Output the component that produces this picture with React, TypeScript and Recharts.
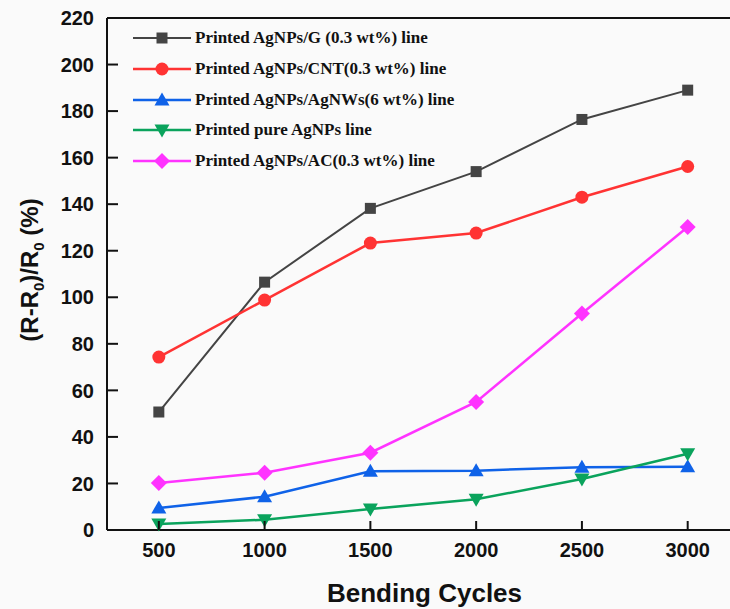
import React from "react";
import { LineChart, Line, XAxis, YAxis, ReferenceLine, Legend } from "recharts";

// ── data ────────────────────────────────────────────────────────────────────
const cycles = [500, 1000, 1500, 2000, 2500, 3000];
const yTicks = [0, 20, 40, 60, 80, 100, 120, 140, 160, 180, 200, 220];

const agG    = [50.7, 106.5, 138.2, 154.0, 176.4, 189.0];
const agCNT  = [74.3, 98.8, 123.3, 127.6, 143.0, 156.2];
const agNWs  = [9.5, 14.3, 25.2, 25.5, 27.0, 27.2];
const pureAg = [2.6, 4.4, 9.0, 13.2, 21.9, 32.8];
const agAC   = [20.2, 24.6, 33.2, 55.0, 93.0, 130.2];

const data = cycles.map((c, i) => ({
  c, g: agG[i], cnt: agCNT[i], nws: agNWs[i], pure: pureAg[i], ac: agAC[i],
}));

type Shape = "square" | "circle" | "up" | "down" | "diamond";

const series: { key: string; name: string; color: string; shape: Shape; width: number }[] = [
  { key: "g",    name: "Printed AgNPs/G (0.3 wt%) line",    color: "#444444", shape: "square",  width: 2 },
  { key: "cnt",  name: "Printed AgNPs/CNT(0.3 wt%) line",   color: "#ff3333", shape: "circle",  width: 2.5 },
  { key: "nws",  name: "Printed AgNPs/AgNWs(6 wt%) line",   color: "#0f62e8", shape: "up",      width: 2.5 },
  { key: "pure", name: "Printed pure AgNPs line",           color: "#0aa35c", shape: "down",    width: 2.5 },
  { key: "ac",   name: "Printed AgNPs/AC(0.3 wt%) line",    color: "#ff33ff", shape: "diamond", width: 2.5 },
];

const SANS = "'Liberation Sans', Arial, sans-serif";
const SERIF = "'Liberation Serif', 'Times New Roman', serif";
const INK = "#111";

// ── markers ─────────────────────────────────────────────────────────────────
function Marker({ shape, color, x, y }: { shape: Shape; color: string; x: number; y: number }) {
  switch (shape) {
    case "square":
      return <rect x={x - 5.5} y={y - 5.5} width={11} height={11} fill={color} />;
    case "circle":
      return <circle cx={x} cy={y} r={6.5} fill={color} />;
    case "up":
      return <polygon points={`${x},${y - 7.5} ${x + 7.5},${y + 5.5} ${x - 7.5},${y + 5.5}`} fill={color} />;
    case "down":
      return <polygon points={`${x},${y + 7.5} ${x + 7.5},${y - 5.5} ${x - 7.5},${y - 5.5}`} fill={color} />;
    default:
      return <polygon points={`${x},${y - 8} ${x + 8},${y} ${x},${y + 8} ${x - 8},${y}`} fill={color} />;
  }
}

const makeDot = (shape: Shape, color: string) => (props: any) => (
  <Marker key={`${shape}-${props.index}`} shape={shape} color={color} x={props.cx} y={props.cy} />
);

// ── ticks (inward tick marks) ───────────────────────────────────────────────
// YAxis: label sits tickMargin (13) left of the axis line, tick mark goes 11px inward
function YTick({ x, y, payload }: any) {
  const ax = x + 13;
  return (
    <g>
      {payload.value !== 220 && <line x1={ax} y1={y} x2={ax + 11} y2={y} stroke={INK} strokeWidth={2} />}
      <text x={x} y={y} dy="0.36em" textAnchor="end" fill={INK}
        fontFamily={SANS} fontWeight={700} fontSize={20}>
        {payload.value}
      </text>
    </g>
  );
}

// XAxis: label top sits tickMargin (13) below the axis line, tick mark goes 9px up
function XTick({ x, y, payload }: any) {
  const ay = y - 13;
  return (
    <g>
      <line x1={x} y1={ay} x2={x} y2={ay - 9} stroke={INK} strokeWidth={2} />
      <text x={x} y={y} dy="0.71em" textAnchor="middle" fill={INK}
        fontFamily={SANS} fontWeight={700} fontSize={20}>
        {payload.value}
      </text>
    </g>
  );
}

// ── legend ──────────────────────────────────────────────────────────────────
function LegendBox() {
  return (
    <div style={{ fontFamily: SERIF, fontWeight: 700, fontSize: 17, color: INK }}>
      {series.map((s) => (
        <div key={s.key} style={{ display: "flex", alignItems: "center", height: 30.7 }}>
          <svg width={62} height={20}>
            <line x1={0} y1={10} x2={58} y2={10} stroke={s.color} strokeWidth={s.width} />
            <Marker shape={s.shape} color={s.color} x={29} y={10} />
          </svg>
          <span>{s.name}</span>
        </div>
      ))}
    </div>
  );
}

// ── axis titles ─────────────────────────────────────────────────────────────
function YTitle() {
  return (
    <text transform="translate(38,270) rotate(-90)" textAnchor="middle"
      fontFamily={SANS} fontWeight={700} fontSize={24} fill={INK}>
      (R-R<tspan fontSize={15} dy={6}>0</tspan>
      <tspan dy={-6}>)/R</tspan>
      <tspan fontSize={15} dy={6}>0</tspan>
      <tspan dy={-6}> (%)</tspan>
    </text>
  );
}

function XTitle({ viewBox }: any) {
  const { x, y, width } = viewBox;
  return (
    <text x={x + width / 2 + 6} y={y + 72} textAnchor="middle"
      fontFamily={SANS} fontWeight={700} fontSize={26} fill={INK}>
      Bending Cycles
    </text>
  );
}

export default function App() {
  return (
    <div style={{ position: "absolute", left: 0, top: 0, width: 730, height: 609, background: "#fafafa", overflow: "hidden" }}>
      <LineChart width={730} height={609} data={data} margin={{ top: 18, right: 0, bottom: 0, left: 0 }}>
        <XAxis
          dataKey="c"
          type="number"
          domain={[255, 3200]}
          ticks={cycles}
          allowDataOverflow
          height={79}
          tick={XTick}
          tickSize={0}
          tickMargin={13}
          tickLine={false}
          axisLine={{ stroke: INK, strokeWidth: 2 }}
          label={{ content: XTitle }}
        />
        <YAxis
          domain={[0, 220]}
          ticks={yTicks}
          width={107}
          tick={YTick}
          tickSize={0}
          tickMargin={13}
          tickLine={false}
          axisLine={{ stroke: INK, strokeWidth: 2 }}
          label={{ content: YTitle }}
        />
        <ReferenceLine y={220} stroke={INK} strokeWidth={2} />
        <Legend
          layout="vertical"
          align="center"
          verticalAlign="middle"
          content={LegendBox}
          wrapperStyle={{ left: 133, top: 23, width: 420 }}
        />
        {series.map((s) => (
          <Line
            key={s.key}
            dataKey={s.key}
            name={s.name}
            type="linear"
            stroke={s.color}
            strokeWidth={s.width}
            dot={makeDot(s.shape, s.color)}
            activeDot={false}
            isAnimationActive={false}
          />
        ))}
      </LineChart>
    </div>
  );
}
